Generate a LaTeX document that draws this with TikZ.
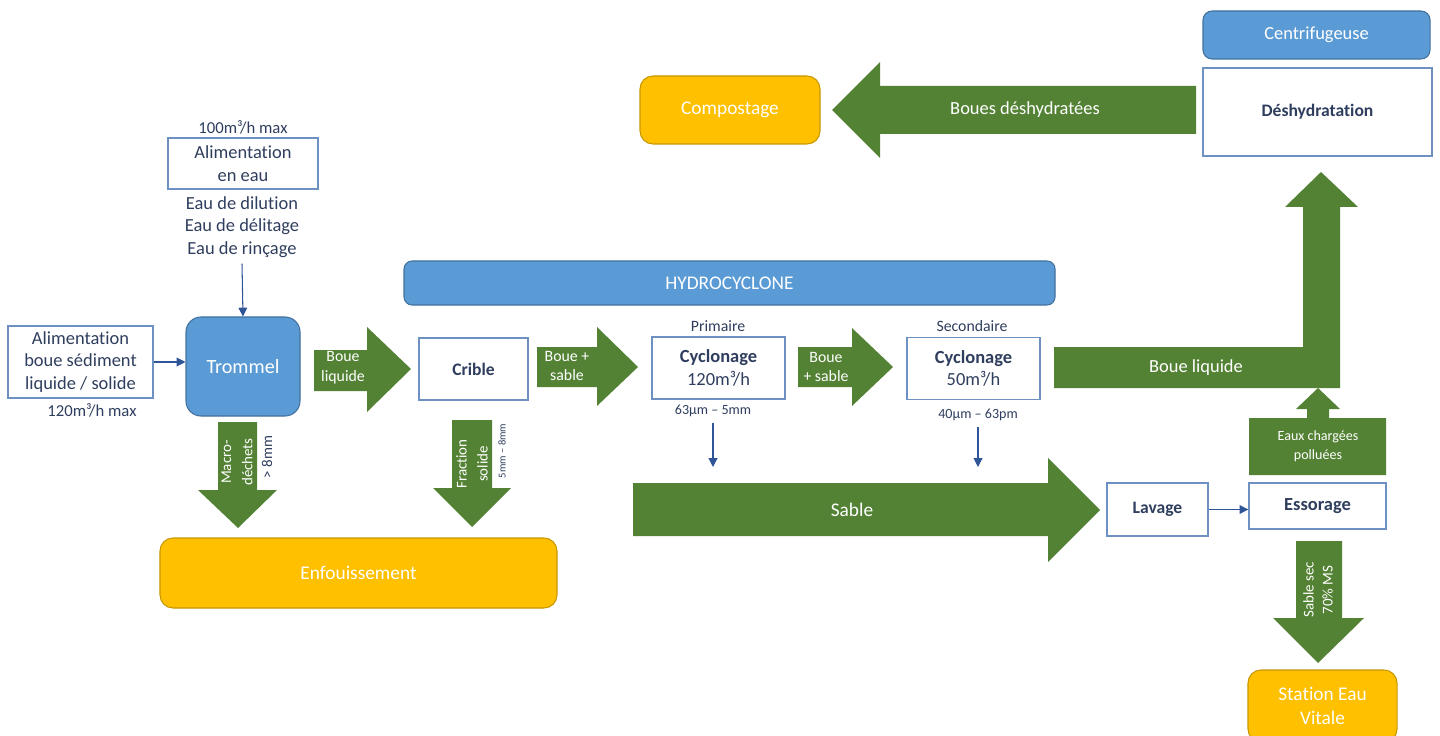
\documentclass[tikz,border=0pt]{standalone}
\usepackage{fontspec}
\setmainfont{Carlito}[Ligatures=NoCommon]
\usetikzlibrary{arrows.meta,positioning}

\definecolor{navy}{RGB}{47,62,94}
\definecolor{boxblue}{RGB}{110,145,195}
\definecolor{procblue}{RGB}{91,155,213}
\definecolor{procedge}{RGB}{65,113,156}
\definecolor{flowgreen}{RGB}{84,130,53}
\definecolor{gold}{RGB}{255,192,0}
\definecolor{golddark}{RGB}{200,150,0}
\definecolor{linkblue}{RGB}{47,85,151}

\begin{document}
\begin{tikzpicture}[x=0.2mm, y=0.2mm,
  every node/.style={font=\fontsize{10.5}{12.8}\selectfont, text=navy, align=center},
  procbox/.style={draw=boxblue, line width=0.8pt, fill=white, inner sep=0pt},
  bluebox/.style={draw=procedge, line width=0.6pt, fill=procblue, text=white, inner sep=0pt},
  endbox/.style={draw=golddark, line width=0.6pt, fill=gold, text=white, inner sep=0pt, rounded corners=2.6mm},
  flowarrow/.style={fill=flowgreen},
  lbl/.style={text=white},
  lblsmall/.style={text=white, font=\fontsize{9}{11.3}\selectfont},
  feedline/.style={draw=linkblue, line width=0.6pt, -{Triangle[length=5pt,width=5pt]}}]
\useasboundingbox (0,0) rectangle (1440,-736);

% entrees
\node (q100) at (243,-127) {\fontsize{9.5}{11}\selectfont 100m³/h max};
\node[procbox, minimum width=30mm, minimum height=10.2mm] (alimeau) at (243,-163.5) {Alimentation\\en eau};
\node (eaux) at (242,-227) {Eau de dilution\\Eau de délitage\\Eau de rinçage};
\node[procbox, minimum width=29mm, minimum height=14.4mm] (alimboue) at (80.5,-362) {Alimentation\\boue sédiment\\liquide / solide};
\node (q120) at (92,-410) {\fontsize{9.5}{11}\selectfont 120m³/h max};
\node[bluebox, rounded corners=3mm, minimum width=22.8mm, minimum height=19.8mm, font=\fontsize{11.5}{14}\selectfont] (trommel) at (243,-366.5) {Trommel};
\draw[feedline] (eaux.south) -- (trommel.north);
\draw[feedline] (alimboue.east) -- (trommel.west |- alimboue.east);

% trommel -> crible
\fill[flowarrow] (314,-350) -- (367,-350) -- (367,-327) -- (411,-369) -- (367,-412) -- (367,-391) -- (314,-391) -- cycle;
\node[lblsmall] (bl1) at (343,-368) {Boue\\liquide};
\node[procbox, minimum width=21.8mm, minimum height=12.4mm, font=\fontsize{10}{12}\selectfont\bfseries] (crible) at (473.5,-369) {Crible};

% hydrocyclone
\node[bluebox, rounded corners=1.6mm, minimum width=130.2mm, minimum height=8.8mm, font=\fontsize{11}{13}\selectfont] (hydro) at (729.5,-283) {HYDROCYCLONE};
\fill[flowarrow] (537,-347) -- (597,-347) -- (597,-327) -- (638,-367) -- (597,-406) -- (597,-387) -- (537,-387) -- cycle;
\node[lblsmall] (bs1) at (567,-366) {Boue +\\sable};
\node[font=\fontsize{9}{11}\selectfont] (prim) at (718,-326) {Primaire};
\node[procbox, minimum width=26.6mm, minimum height=12.4mm] (cycl1) at (718.5,-368) {\textbf{Cyclonage}\\120m³/h};
\node[font=\fontsize{8}{10}\selectfont] (gran1) at (713,-411) {63µm – 5mm};
\fill[flowarrow] (798,-347) -- (852,-347) -- (852,-328) -- (893,-367) -- (852,-406) -- (852,-387) -- (798,-387) -- cycle;
\node[lblsmall] (bs2) at (826,-367) {Boue\\+ sable};
\node[font=\fontsize{9}{11}\selectfont] (second) at (972,-326) {Secondaire};
\node[procbox, minimum width=26.6mm, minimum height=12.4mm] (cycl2) at (973.5,-368.5) {\textbf{Cyclonage}\\50m³/h};
\node[font=\fontsize{8}{10}\selectfont] (gran2) at (978,-415) {40µm – 63pm};
\coordinate (s1) at (713,-467);
\coordinate (s2) at (978,-467);
\draw[feedline] (gran1.south) -- (s1);
\draw[feedline] (gran2.south) -- (s2);

% sable
\fill[flowarrow] (633,-483) -- (1048,-483) -- (1048,-458) -- (1100,-510) -- (1048,-562) -- (1048,-536) -- (633,-536) -- cycle;
\node[lbl, font=\fontsize{11}{13}\selectfont] (sable) at (852,-510) {Sable};
\node[procbox, minimum width=20.2mm, minimum height=10.6mm, font=\fontsize{10}{12}\selectfont\bfseries] (lavage) at (1157.5,-509.5) {Lavage};
\node[procbox, minimum width=27.4mm, minimum height=9.2mm, font=\fontsize{10.5}{12}\selectfont\bfseries] (essorage) at (1317.5,-506) {Essorage};
\draw[feedline] (lavage.east) -- (essorage.west |- lavage.east);

% eaux chargees
\fill[flowarrow] (1249,-418) -- (1307,-418) -- (1307,-409) -- (1296,-409) -- (1318,-388) -- (1340,-409) -- (1329,-409) -- (1329,-418) -- (1386,-418) -- (1386,-475) -- (1249,-475) -- cycle;
\node[lbl, font=\fontsize{8}{11}\selectfont] (eauxch) at (1318,-446) {Eaux chargées\\polluées};

% boue liquide
\fill[flowarrow] (1054,-347) -- (1303,-347) -- (1303,-207) -- (1285,-207) -- (1321,-172) -- (1358,-207) -- (1340,-207) -- (1340,-388) -- (1054,-388) -- cycle;
\node[lbl, font=\fontsize{10.5}{13}\selectfont] (bliq) at (1196,-368) {Boue liquide};

% centrifugeuse
\node[bluebox, rounded corners=1.8mm, minimum width=45.4mm, minimum height=9.6mm, font=\fontsize{10.5}{13}\selectfont] (centri) at (1316.5,-35) {Centrifugeuse};
\node[procbox, minimum width=45.8mm, minimum height=17.6mm, font=\fontsize{10}{12}\selectfont\bfseries] (deshyd) at (1317.5,-112) {Déshydratation};
\fill[flowarrow] (1196,-86) -- (880,-86) -- (880,-62) -- (832,-110) -- (880,-158) -- (880,-134) -- (1196,-134) -- cycle;
\node[lbl, font=\fontsize{10.5}{13}\selectfont] (bdesh) at (1025,-110) {Boues déshydratées};
\node[endbox, minimum width=36mm, minimum height=13.6mm, font=\fontsize{11}{13}\selectfont] (compost) at (730,-110) {Compostage};

% sable sec
\fill[flowarrow] (1296,-541) -- (1342,-541) -- (1342,-618) -- (1364,-618) -- (1318,-663) -- (1273,-618) -- (1296,-618) -- cycle;
\node[lbl, rotate=90, font=\fontsize{8.5}{10.8}\selectfont] (sablesec) at (1318,-590) {Sable sec\\70\% MS};
\node[endbox, minimum width=29.8mm, minimum height=14.4mm, font=\fontsize{11}{13.5}\selectfont] (station) at (1322.5,-706) {Station Eau\\Vitale};

% refus
\fill[flowarrow] (218,-422) -- (257,-422) -- (257,-490) -- (277,-490) -- (238,-528) -- (198,-490) -- (218,-490) -- cycle;
\node[lbl, rotate=90, font=\fontsize{8.5}{12}\selectfont] (macro) at (237,-462) {Macro-\\déchets};
\node[rotate=90, font=\fontsize{8.5}{10}\selectfont] (macrodim) at (267,-457) {> 8mm};
\fill[flowarrow] (452,-420) -- (492,-420) -- (492,-488) -- (511,-488) -- (472,-527) -- (433,-488) -- (452,-488) -- cycle;
\node[lbl, rotate=90, font=\fontsize{8.5}{12}\selectfont] (fraction) at (472,-464) {Fraction\\solide};
\node[rotate=90, font=\fontsize{6}{7}\selectfont] (fracdim) at (502,-451) {5mm – 8mm};
\node[endbox, minimum width=79.4mm, minimum height=14mm, font=\fontsize{11}{13}\selectfont] (enfouis) at (358.5,-573) {Enfouissement};
\end{tikzpicture}
\end{document}
